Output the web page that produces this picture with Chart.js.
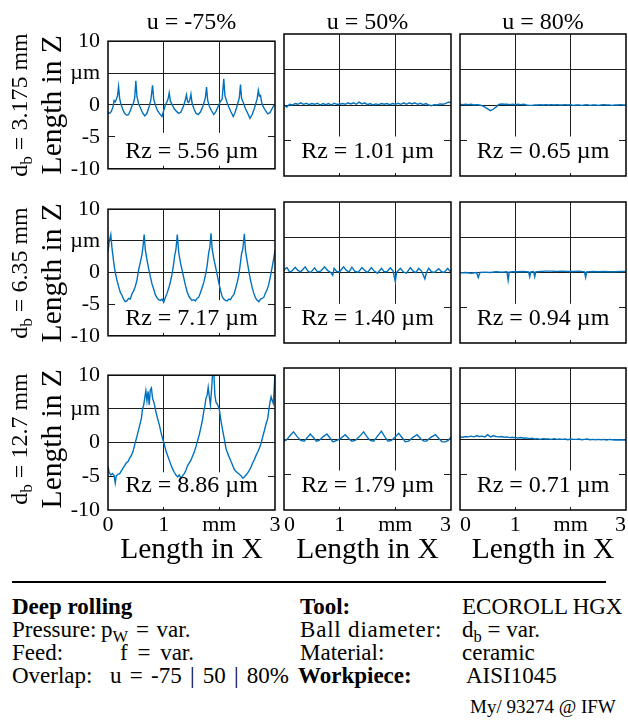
<!DOCTYPE html>
<html><head><meta charset="utf-8">
<script src="https://cdn.jsdelivr.net/npm/chart.js@4.4.1/dist/chart.umd.min.js"></script>
<style>
html,body{margin:0;padding:0;background:#fff;}
body{width:628px;height:721px;position:relative;overflow:hidden;font-family:'Liberation Serif','Times New Roman',serif;color:#000;}
.cv{position:absolute;}
.t{position:absolute;white-space:nowrap;line-height:1;}
.rz{position:absolute;text-align:center;white-space:nowrap;}
sub{font-size:0.72em;vertical-align:-0.3em;line-height:0;}
</style></head><body>
<script>
// ---------- data ----------
const COLUMN_TITLES = ['u = -75%', 'u = 50%', 'u = 80%'];
const ROW_LABELS = ['3.175 mm', '6.35 mm', '12.7 mm'];
const RZ_VALUES = [[5.56, 1.01, 0.65], [7.17, 1.40, 0.94], [8.86, 1.79, 0.71]];
const X_TICKS = [0, 1, 2, 3];
const X_TICK_LABELS = ['0', '1', 'mm', '3'];
const Y_TICKS = [-10, -5, 0, 5, 10];
const Y_TICK_LABELS = ['-10', '-5', '0', 'µm', '10'];

const GRID_05 = [0,0.05,0.1,0.15,0.2,0.25,0.3,0.35,0.4,0.45,0.5,0.55,0.6,0.65,0.7,0.75,0.8,0.85,0.9,0.95,1,1.05,1.1,1.15,1.2,1.25,1.3,1.35,1.4,1.45,1.5,1.55,1.6,1.65,1.7,1.75,1.8,1.85,1.9,1.95,2,2.05,2.1,2.15,2.2,2.25,2.3,2.35,2.4,2.45,2.5,2.55,2.6,2.65,2.7,2.75,2.8,2.85,2.9,2.95,3];

// d_b = 3.175 mm
const R1C1_X = [0,0.03,0.06,0.09,0.11,0.13,0.15,0.17,0.19,0.21,0.23,0.25,0.28,0.31,0.34,0.37,0.40,0.43,0.46,0.48,0.50,0.52,0.55,0.58,0.62,0.66,0.70,0.74,0.77,0.80,0.82,0.85,0.89,0.93,0.97,1.00,1.03,1.06,1.08,1.10,1.12,1.15,1.19,1.23,1.27,1.31,1.35,1.38,1.41,1.43,1.45,1.47,1.49,1.51,1.54,1.58,1.62,1.66,1.70,1.73,1.75,1.77,1.79,1.82,1.86,1.90,1.94,1.98,2.02,2.05,2.08,2.10,2.13,2.17,2.21,2.25,2.28,2.31,2.34,2.36,2.38,2.40,2.43,2.47,2.51,2.55,2.59,2.63,2.66,2.68,2.70,2.72,2.74,2.76,2.79,2.83,2.87,2.91,2.94,2.97,3.0];
const R1C1_Z = [-1.2,-1.3,-1.0,-0.3,0.7,0.5,0.9,1.4,2.9,1.0,0.2,-0.3,-1.0,-1.4,-1.6,-1.5,-0.9,-0.2,0.4,1.2,3.8,1.3,0.2,-0.4,-1.2,-1.7,-1.3,-0.2,0.8,3.1,1.0,0.0,-0.9,-1.4,-1.8,-0.9,0.0,0.5,1.0,1.9,0.6,0.1,-0.6,-1.0,-1.3,-1.1,-0.3,0.5,1.6,0.5,0.4,0.8,1.7,0.3,-0.5,-1.3,-1.5,-1.1,-0.3,0.5,1.2,2.8,0.8,-0.2,-0.9,-1.5,-1.0,-0.2,0.6,0.9,4.1,1.5,0.6,-0.3,-1.1,-1.8,-1.2,-0.4,0.5,1.2,3.2,1.0,0.4,-0.6,-1.3,-2.1,-1.5,-0.5,0.4,1.0,2.3,1.4,1.5,0.4,-0.3,-0.9,-1.4,-1.2,-0.7,-0.2,0.2];
const R1C2_Z = [0.0,-0.3,0.1,0.0,0.2,0.1,0.3,0.1,0.25,0.05,0.2,0.1,0.25,0.0,0.2,0.05,0.2,0.0,0.25,0.1,0.1,0.2,0.1,0.3,0.15,0.3,0.1,0.4,0.15,0.3,0.05,0.2,0.0,0.15,0.05,0.2,0.1,0.2,0.05,0.2,0.1,0.25,0.1,0.3,0.1,0.3,0.15,0.3,0.1,0.25,0.05,0.2,0.0,-0.1,0.05,0.0,0.15,0.1,0.2,0.4,0.35];
const R1C3_Z = [0.1,0.05,0.1,0.05,0.1,0.0,0.05,0.0,-0.1,-0.3,-0.55,-0.8,-0.6,-0.3,0.1,0.15,0.1,0.1,0.05,0.1,0.05,0.1,0.05,0.1,0.0,-0.05,-0.05,0.0,0.0,0.05,0.0,0.05,0.0,0.05,0.0,0.05,0.0,0.0,0.05,0.0,0.05,-0.05,0.0,0.0,-0.05,0.0,0.05,-0.05,0.0,0.0,-0.05,0.0,0.05,0.0,0.0,-0.05,0.0,0.0,0.05,0.0,0.0];

// d_b = 6.35 mm
const R2C1_X = [0.00,0.02,0.05,0.07,0.10,0.13,0.16,0.19,0.22,0.25,0.28,0.31,0.34,0.37,0.40,0.43,0.46,0.49,0.52,0.55,0.58,0.61,0.63,0.65,0.67,0.70,0.73,0.76,0.79,0.82,0.85,0.88,0.91,0.94,0.97,1.00,1.03,1.06,1.09,1.12,1.15,1.18,1.20,1.22,1.245,1.27,1.30,1.33,1.36,1.39,1.42,1.45,1.48,1.51,1.54,1.57,1.60,1.63,1.66,1.69,1.72,1.75,1.78,1.81,1.83,1.85,1.87,1.90,1.93,1.96,1.99,2.02,2.05,2.08,2.11,2.14,2.17,2.20,2.23,2.26,2.29,2.32,2.35,2.38,2.40,2.42,2.45,2.47,2.50,2.53,2.56,2.59,2.62,2.65,2.68,2.71,2.74,2.77,2.80,2.83,2.86,2.89,2.92,2.95,2.98,3.00];
const R2C1_Z = [3.3,4.8,6.0,4.0,1.8,0.0,-1.2,-2.2,-3.1,-3.6,-4.2,-4.6,-4.5,-4.1,-4.2,-3.4,-2.9,-2.2,-1.2,0.4,1.6,2.8,4.2,6.0,3.6,2.0,0.6,-0.6,-1.8,-2.6,-3.5,-4.0,-4.3,-4.4,-4.2,-4.7,-4.0,-3.3,-2.5,-1.5,-0.3,1.4,2.8,3.6,6.0,3.2,1.6,0.4,-0.8,-2.0,-3.0,-3.7,-4.1,-4.4,-4.3,-4.5,-4.1,-3.9,-3.2,-2.4,-1.6,-0.4,1.0,3.2,4.0,6.2,3.8,2.2,1.0,-0.3,-1.6,-2.8,-3.8,-4.2,-4.4,-4.5,-4.2,-4.3,-3.8,-3.5,-2.6,-1.6,-0.4,1.6,3.0,3.6,6.1,3.4,1.8,0.2,-1.2,-2.4,-3.3,-4.0,-4.4,-4.6,-4.2,-4.1,-3.9,-3.2,-2.7,-1.8,-0.5,0.9,2.4,3.5];
const R2C2_X = [0,0.03,0.054,0.09,0.13,0.20,0.25,0.30,0.38,0.43,0.48,0.55,0.60,0.66,0.73,0.78,0.84,0.875,0.90,0.95,1.00,1.07,1.12,1.17,1.22,1.27,1.33,1.40,1.45,1.50,1.57,1.62,1.68,1.75,1.80,1.85,1.91,1.96,2.0,2.02,2.09,2.14,2.20,2.27,2.32,2.37,2.42,2.47,2.53,2.56,2.60,2.65,2.70,2.78,2.83,2.88,2.94,2.98,3.0];
const R2C2_Z = [0.3,0.6,0.7,0.2,0.1,0.75,0.3,0.1,0.8,0.2,0.0,0.65,0.1,0.2,0.8,0.3,0.0,-0.4,0.6,0.1,0.1,0.8,0.3,0.1,0.75,0.2,0.0,0.7,0.3,0.0,0.7,0.2,-0.1,0.6,0.1,0.1,0.65,0.2,-1.3,0.0,0.6,0.1,-0.1,0.7,0.2,0.0,0.6,0.2,-0.9,0.0,0.6,0.1,0.0,0.55,0.1,0.0,0.6,0.2,0.3];
const R2C3_X = [0,0.1,0.2,0.3,0.33,0.36,0.45,0.55,0.65,0.75,0.85,0.87,0.89,0.95,1.05,1.15,1.24,1.26,1.28,1.33,1.35,1.37,1.45,1.55,1.65,1.75,1.85,1.95,2.05,2.15,2.25,2.27,2.29,2.4,2.5,2.6,2.7,2.8,2.9,3.0];
const R2C3_Z = [-0.05,0.0,-0.1,0.0,-0.7,0.0,0.05,0.0,0.1,0.05,0.1,-1.1,0.05,0.1,0.1,0.15,0.1,-0.6,0.1,0.15,-0.6,0.1,0.15,0.2,0.2,0.15,0.2,0.15,0.15,0.2,0.1,-0.7,0.1,0.15,0.1,0.15,0.1,0.1,0.15,0.15];

// d_b = 12.7 mm
const R3C1_X = [0.00,0.02,0.05,0.08,0.11,0.13,0.15,0.18,0.21,0.24,0.27,0.30,0.33,0.36,0.39,0.42,0.45,0.48,0.51,0.54,0.57,0.60,0.62,0.64,0.66,0.68,0.70,0.72,0.74,0.76,0.78,0.80,0.83,0.86,0.89,0.92,0.95,0.98,1.01,1.04,1.07,1.10,1.13,1.16,1.19,1.22,1.25,1.28,1.31,1.34,1.37,1.40,1.43,1.46,1.49,1.52,1.55,1.58,1.61,1.64,1.67,1.70,1.72,1.74,1.76,1.78,1.80,1.82,1.84,1.86,1.88,1.90,1.92,1.94,1.97,2.00,2.03,2.06,2.09,2.12,2.15,2.18,2.21,2.24,2.27,2.30,2.33,2.36,2.39,2.42,2.45,2.48,2.51,2.54,2.57,2.60,2.63,2.66,2.69,2.72,2.75,2.78,2.81,2.84,2.87,2.89,2.91,2.93,2.95,2.97,2.99,3.00];
const R3C1_Z = [-3.5,-4.4,-4.8,-4.6,-4.9,-6.0,-4.9,-4.7,-4.6,-4.2,-3.8,-3.4,-3.0,-2.8,-2.3,-1.9,-1.3,-0.3,0.6,1.6,2.6,3.6,5.0,5.5,6.6,7.7,6.2,7.6,5.6,7.8,8.1,6.6,5.8,4.6,3.6,2.7,1.6,0.6,-0.2,-1.2,-1.9,-2.6,-3.3,-3.9,-4.4,-4.8,-5.1,-4.8,-5.3,-4.9,-4.6,-4.1,-3.4,-3.0,-2.6,-2.0,-1.4,-0.6,0.3,1.2,2.3,3.5,4.6,5.4,6.6,7.0,8.2,6.8,5.6,7.8,10.4,10.6,7.0,6.0,5.6,4.9,3.2,1.8,0.5,-0.9,-1.6,-2.2,-2.8,-3.4,-4.0,-4.3,-4.5,-4.7,-4.9,-5.3,-5.1,-4.8,-4.5,-4.1,-3.6,-3.0,-2.5,-1.9,-1.4,-0.8,-0.1,0.9,1.8,2.8,3.6,4.9,6.0,6.8,6.2,5.8,8.6,10.5];
const R3C2_X = [0,0.05,0.10,0.17,0.24,0.30,0.36,0.42,0.47,0.53,0.58,0.63,0.70,0.77,0.83,0.88,0.95,1.02,1.10,1.17,1.22,1.28,1.35,1.43,1.50,1.55,1.61,1.68,1.75,1.82,1.87,1.93,2.00,2.06,2.13,2.18,2.24,2.31,2.39,2.46,2.51,2.56,2.63,2.72,2.79,2.84,2.90,2.95,3.0];
const R3C2_Z = [-0.3,-0.1,0.4,1.0,0.3,-0.2,-0.3,0.2,0.7,0.2,-0.3,-0.2,0.3,0.7,0.1,-0.4,-0.2,0.1,0.6,0.0,-0.3,-0.2,0.3,1.0,0.2,-0.2,-0.3,0.4,1.1,0.2,-0.3,-0.2,0.3,0.8,0.1,-0.4,-0.3,0.2,0.6,0.0,-0.3,-0.3,0.2,0.6,0.0,-0.4,-0.4,-0.2,0.3];
const R3C3_Z = [0.3,0.25,0.35,0.3,0.4,0.3,0.45,0.35,0.4,0.3,0.6,0.3,0.45,0.35,0.3,0.35,0.25,0.3,0.2,0.25,0.2,0.15,0.2,0.1,0.15,0.05,0.1,0.0,0.05,-0.05,0.05,0.0,0.0,-0.05,0.05,-0.05,0.0,-0.05,0.0,-0.1,0.0,-0.05,-0.05,0.0,-0.1,-0.05,0.0,-0.1,-0.05,-0.1,-0.05,-0.1,-0.05,-0.15,-0.05,-0.1,-0.15,-0.1,-0.15,-0.1,-0.2];

const PANELS = [
  [{x: R1C1_X, z: R1C1_Z}, {x: GRID_05, z: R1C2_Z}, {x: GRID_05, z: R1C3_Z}],
  [{x: R2C1_X, z: R2C1_Z}, {x: R2C2_X, z: R2C2_Z}, {x: R2C3_X, z: R2C3_Z}],
  [{x: R3C1_X, z: R3C1_Z}, {x: R3C2_X, z: R3C2_Z}, {x: GRID_05, z: R3C3_Z}]
];

// ---------- layout / style ----------
const FONT = "'Liberation Serif', 'Times New Roman', serif";
const LINE_COLOR = '#0072BD';
const GRID_COLOR = '#1e1e1e';
const GEOM = { colLeft: [108, 284, 460], colWidth: [167, 167, 166], rowTop: [34, 202, 368], rowHeight: [142, 141, 142] };

const framePlugin = {
  id: 'frame',
  beforeDatasetsDraw(chart) {
    // white label box behind the trace (covers the grid)
    const a = chart.chartArea, ctx = chart.ctx;
    const top = chart.scales.y.getPixelForValue(-5) - 4;
    ctx.save();
    ctx.fillStyle = '#fff';
    ctx.fillRect(a.left + 7, top, (a.right - a.left) - 14, (a.bottom - 3) - top);
    ctx.restore();
  },
  afterDraw(chart) {
    const a = chart.chartArea, ctx = chart.ctx;
    ctx.save();
    ctx.strokeStyle = '#000';
    ctx.lineWidth = 1.5;
    ctx.strokeRect(a.left, a.top, a.right - a.left, a.bottom - a.top);
    ctx.restore();
  }
};

function addText(html, x, baseline, size, align, bold, extra) {
  const d = document.createElement('div');
  d.className = 't';
  d.style.fontSize = size + 'px';
  if (bold) d.style.fontWeight = 'bold';
  if (extra) Object.assign(d.style, extra);
  d.innerHTML = html;
  d.style.top = (baseline - 0.8375 * size) + 'px';
  if (align === 'center') { d.style.left = (x - 200) + 'px'; d.style.width = '400px'; d.style.textAlign = 'center'; }
  else d.style.left = x + 'px';
  document.body.appendChild(d);
  return d;
}
function addRotated(html, cx, cy, size) {
  const d = document.createElement('div');
  d.className = 't';
  d.style.fontSize = size + 'px';
  d.style.width = '300px'; d.style.height = size + 'px'; d.style.textAlign = 'center';
  d.style.left = (cx - 150) + 'px'; d.style.top = (cy - size / 2) + 'px';
  d.style.transform = 'rotate(-90deg)';
  d.innerHTML = html;
  document.body.appendChild(d);
}

function makePanel(r, c) {
  const L = GEOM.colLeft[c], W = GEOM.colWidth[c], T = GEOM.rowTop[r], H = GEOM.rowHeight[r];
  const showY = c === 0, showX = r === 2;
  const padL = showY ? 70 : 10, padR = 10, padT = 14, padB = showX ? 34 : 14;
  const cv = document.createElement('canvas');
  cv.className = 'cv';
  cv.width = W + padL + padR; cv.height = H + padT + padB;
  cv.style.width = cv.width + 'px'; cv.style.height = cv.height + 'px';
  cv.style.left = (L - padL) + 'px'; cv.style.top = (T - padT) + 'px';
  document.body.appendChild(cv);
  const src = PANELS[r][c];
  new Chart(cv, {
    type: 'line',
    data: { datasets: [{ data: src.x.map((x, i) => ({ x: x, y: src.z[i] })), borderColor: LINE_COLOR, borderWidth: 1.4, pointRadius: 0, tension: 0, fill: false }] },
    options: {
      responsive: false, animation: false, devicePixelRatio: 1,
      layout: { padding: { left: 0, right: padR, top: padT, bottom: 0 } },
      plugins: { legend: { display: false }, tooltip: { enabled: false } },
      scales: {
        x: {
          type: 'linear', min: 0, max: 3,
          afterBuildTicks: s => { s.ticks = X_TICKS.map(v => ({ value: v })); },
          afterFit: s => { s.height = padB; },
          grid: { color: ctx => (ctx.tick && ctx.tick.value > 0 && ctx.tick.value < 3) ? GRID_COLOR : 'rgba(0,0,0,0)', lineWidth: 1, drawTicks: false },
          border: { display: false },
          ticks: { display: showX, autoSkip: false, maxRotation: 0, padding: 2, align: c === 0 ? 'center' : 'inner', color: '#000', font: { family: FONT, size: 22 },
                   callback: v => X_TICK_LABELS[X_TICKS.indexOf(v)] }
        },
        y: {
          type: 'linear', min: -10, max: 10,
          afterBuildTicks: s => { s.ticks = Y_TICKS.map(v => ({ value: v })); },
          afterFit: s => { s.width = padL; },
          grid: { color: ctx => (ctx.tick && ctx.tick.value > -10 && ctx.tick.value < 10) ? GRID_COLOR : 'rgba(0,0,0,0)', lineWidth: 1, drawTicks: false },
          border: { display: false },
          ticks: { display: showY, autoSkip: false, padding: 8, color: '#000', font: { family: FONT, size: 22 },
                   callback: v => Y_TICK_LABELS[Y_TICKS.indexOf(v)] }
        }
      }
    },
    plugins: [framePlugin]
  });

  // Rz annotation text (box itself is painted in the canvas, under the trace)
  const yMinus5 = T + H * 15 / 20;
  const box = document.createElement('div');
  box.className = 'rz';
  box.style.left = (L + 7) + 'px';
  box.style.width = (W - 14) + 'px';
  box.style.top = (yMinus5 - 4) + 'px';
  box.style.fontSize = '24px';
  box.style.lineHeight = '26px';
  box.textContent = 'Rz = ' + RZ_VALUES[r][c].toFixed(2) + ' µm';
  document.body.appendChild(box);
}

Chart.defaults.font.family = FONT;
for (let r = 0; r < 3; r++) for (let c = 0; c < 3; c++) makePanel(r, c);

// column titles and x-axis titles
for (let c = 0; c < 3; c++) {
  const cx = GEOM.colLeft[c] + GEOM.colWidth[c] / 2;
  addText(COLUMN_TITLES[c], cx, 29, 24, 'center');
  addText('Length in X', cx, 559, 29.5, 'center');
}
// row labels
for (let r = 0; r < 3; r++) {
  const cy = GEOM.rowTop[r] + GEOM.rowHeight[r] / 2;
  addRotated('Length in Z', 51.5, cy, 29.5);
  addRotated('d<sub>b</sub> = ' + ROW_LABELS[r], 19, cy, 24);
}

// footer
const rule = document.createElement('div');
rule.style.cssText = 'position:absolute;left:12px;top:581px;width:594px;height:2px;background:#000;';
document.body.appendChild(rule);
const B = [614, 637, 660, 683];
const FS = 23;
addText('Deep rolling', 12, B[0], FS, 'left', true);
addText('Pressure:', 12, B[1], FS);
addText('p<sub>W</sub> = var.', 101, B[1], FS, 'left', false, { wordSpacing: '2px' });
addText('Feed:', 12, B[2], FS);
addText('f = var.', 120, B[2], FS, 'left', false, { wordSpacing: '4px' });
addText('Overlap:', 12, B[3], FS);
addText('u = -75 | 50 | 80%', 110, B[3], FS, 'left', false, { wordSpacing: '2.5px' });
addText('Tool:', 300, B[0], FS, 'left', true);
addText('ECOROLL\u2009HGX', 462, B[0], FS);
addText('Ball diameter:', 300, B[1], FS, 'left', false, { letterSpacing: '0.8px' });
addText('d<sub>b</sub> = var.', 462, B[1], FS);
addText('Material:', 300, B[2], FS);
addText('ceramic', 462, B[2], FS);
addText('Workpiece:', 298, B[3], FS, 'left', true);
addText('AISI1045', 466, B[3], FS);
addText('My/ 93274 @ IFW', 470, 713, 19);
</script>
</body></html>
